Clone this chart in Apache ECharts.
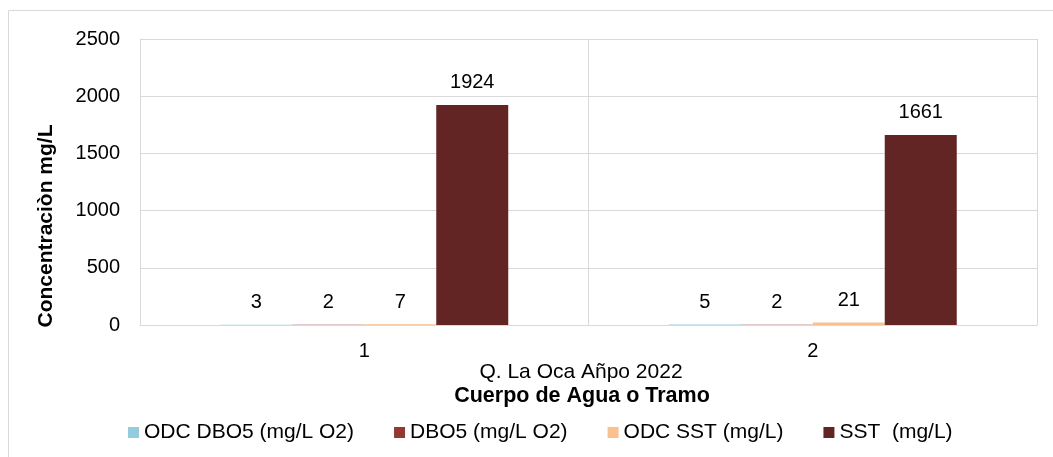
<!DOCTYPE html>
<html>
<head>
<meta charset="utf-8">
<script src="https://cdn.jsdelivr.net/npm/echarts@6/dist/echarts.min.js"></script>
<style>
html,body{margin:0;padding:0;background:#fff;}
#chart{width:1053px;height:457px;}
</style>
</head>
<body>
<div id="chart"></div>
<script>
const categories = ['1', '2'];
const seriesNames = ['ODC DBO5 (mg/L O2)', 'DBO5 (mg/L O2)', 'ODC SST (mg/L)', 'SST  (mg/L)'];
const odcDbo5 = [3, 5];
const dbo5 = [2, 2];
const odcSst = [7, 21];
const sst = [1924, 1661];
const yTicks = [0, 500, 1000, 1500, 2000, 2500];
const colors = ['#93CDDD', '#953735', '#FAC090', '#632523'];

const font = 'Liberation Sans, Arial, sans-serif';
const values = [odcDbo5, dbo5, odcSst, sst];

const chart = echarts.init(document.getElementById('chart'), null, {renderer: 'canvas'});
chart.setOption({
  animation: false,
  backgroundColor: '#fff',
  textStyle: {fontFamily: font},
  graphic: [
    {type: 'rect', shape: {x: 8.5, y: 10.5, width: 1200, height: 600}, style: {fill: 'none', stroke: '#D9D9D9', lineWidth: 1}, z: -10},
    {type: 'text', x: 46, y: 226, rotation: Math.PI / 2, style: {text: 'Concentraciòn mg/L', font: 'bold 21px ' + font, fill: '#000', align: 'center', verticalAlign: 'middle'}},
    {type: 'text', x: 581, y: 372, style: {text: 'Q. La Oca Añpo 2022', font: '21px ' + font, fill: '#000', align: 'center', verticalAlign: 'middle'}},
    {type: 'text', x: 582, y: 396, style: {text: 'Cuerpo de Agua o Tramo', font: 'bold 21.5px ' + font, fill: '#000', align: 'center', verticalAlign: 'middle'}}
  ],
  grid: {left: 140, top: 39, right: 16, bottom: 132, containLabel: false},
  legend: {
    left: 128, top: 422, padding: 0,
    itemWidth: 11, itemHeight: 11, itemGap: 40,
    icon: 'rect',
    textStyle: {fontSize: 21, color: '#000', fontFamily: font},
    data: seriesNames
  },
  xAxis: {
    type: 'category',
    data: categories,
    axisLine: {show: true, lineStyle: {color: '#D9D9D9', width: 1}},
    axisTick: {show: false},
    splitLine: {show: true, lineStyle: {color: '#D9D9D9', width: 1}},
    axisLabel: {fontSize: 20, color: '#000', margin: 16, fontFamily: font}
  },
  yAxis: {
    type: 'value',
    min: yTicks[0], max: yTicks[yTicks.length - 1], interval: 500,
    axisLine: {show: true, lineStyle: {color: '#D9D9D9'}},
    axisTick: {show: false},
    splitLine: {show: true, lineStyle: {color: '#D9D9D9', width: 1}},
    axisLabel: {fontSize: 20, color: '#000', margin: 20, fontFamily: font, formatter: v => String(v)}
  },
  series: seriesNames.map((n, i) => ({
    name: n,
    type: 'bar',
    data: values[i],
    barWidth: 72,
    barGap: '0%',
    itemStyle: {color: colors[i]},
    label: {show: true, position: 'top', distance: 12, fontSize: 20, color: '#000', fontFamily: font}
  }))
});
</script>
</body>
</html>
